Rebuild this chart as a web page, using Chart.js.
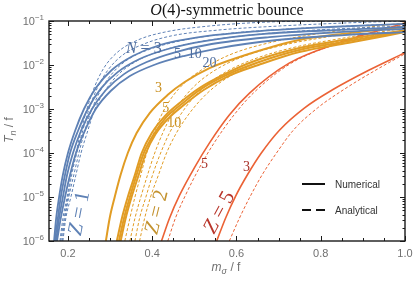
<!DOCTYPE html>
<html lang="en">
<head>
<meta charset="UTF-8" />
<title>O(4)-symmetric bounce</title>
<script src="https://cdn.jsdelivr.net/npm/chart.js"></script>
<style>
  html, body { margin:0; padding:0; background:#fff; }
</style>
</head>
<body>
<canvas id="bounceChart" width="415" height="282"></canvas>
<script>
// axis ranges and ticks
const xRange = [0.155, 1.0];
const yRange = [1e-6, 1e-1];
const xTickLabels = ['0.2', '0.4', '0.6', '0.8', '1.0'];
const yTickExps = [-6, -5, -4, -3, -2, -1];

// Z = 1, numerical (solid), N = 3, 5, 10, 20  -- [m_sigma/f, T_n/f]
const z1Num3 = [[0.167,1e-6],[0.172,3.3e-6],[0.179,1e-5],[0.188,3.2e-5],[0.200,1e-4],[0.217,3.2e-4],[0.238,1e-3],[0.266,3.0e-3],[0.304,7.7e-3],[0.354,0.016],[0.418,0.0285],[0.512,0.043],[0.654,0.059],[0.820,0.073],[1.0,0.086]];
const z1Num5 = [[0.169,1e-6],[0.176,3.3e-6],[0.183,1e-5],[0.193,3.2e-5],[0.205,1e-4],[0.224,3.2e-4],[0.247,1e-3],[0.278,2.9e-3],[0.318,6.9e-3],[0.370,0.0137],[0.437,0.0231],[0.524,0.035],[0.666,0.051],[0.832,0.062],[1.0,0.073]];
const z1Num10 = [[0.172,1e-6],[0.179,3.3e-6],[0.188,1e-5],[0.198,3.2e-5],[0.212,1e-4],[0.231,3.2e-4],[0.257,1e-3],[0.290,2.7e-3],[0.333,6.2e-3],[0.387,0.0117],[0.456,0.0197],[0.541,0.030],[0.678,0.043],[0.844,0.056],[1.0,0.066]];
const z1Num20 = [[0.174,1e-6],[0.183,3.3e-6],[0.193,1e-5],[0.205,3.2e-5],[0.219,1e-4],[0.240,3.2e-4],[0.266,1e-3],[0.302,2.6e-3],[0.347,5.6e-3],[0.404,0.0100],[0.475,0.0160],[0.560,0.0243],[0.697,0.037],[0.856,0.048],[1.0,0.056]];
// Z = 1, analytical (dashed)
const z1Ana3 = [[0.181,1e-6],[0.188,3.3e-6],[0.198,1e-5],[0.207,3.2e-5],[0.219,1e-4],[0.231,3.2e-4],[0.245,1e-3],[0.262,3.0e-3],[0.285,8.5e-3],[0.318,0.0197],[0.366,0.037],[0.430,0.056],[0.536,0.077],[0.678,0.095],[0.827,0.1],[1.0,0.111]];
const z1Ana5 = [[0.183,1e-6],[0.191,3.3e-6],[0.200,1e-5],[0.209,3.2e-5],[0.221,1e-4],[0.235,3.2e-4],[0.250,1e-3],[0.269,2.9e-3],[0.295,7.7e-3],[0.330,0.0169],[0.380,0.030],[0.446,0.046],[0.555,0.062],[0.702,0.077],[0.856,0.090],[1.0,0.1]];
const z1Ana10 = [[0.186,1e-6],[0.193,3.3e-6],[0.202,1e-5],[0.214,3.2e-5],[0.226,1e-4],[0.240,3.2e-4],[0.257,1e-3],[0.278,2.7e-3],[0.306,6.6e-3],[0.344,0.0137],[0.396,0.0231],[0.465,0.035],[0.572,0.051],[0.725,0.066],[0.867,0.077],[1.0,0.086]];
const z1Ana20 = [[0.188,1e-6],[0.195,3.3e-6],[0.207,1e-5],[0.219,3.2e-5],[0.231,1e-4],[0.247,3.2e-4],[0.264,1e-3],[0.288,2.6e-3],[0.318,5.9e-3],[0.359,0.0117],[0.413,0.0197],[0.484,0.030],[0.588,0.043],[0.749,0.059],[0.879,0.069],[1.0,0.077]];

// Z = 2
const z2Num3 = [[0.290,1e-6],[0.299,3.3e-6],[0.311,1e-5],[0.325,3.2e-5],[0.342,1e-4],[0.363,2.85e-4],[0.394,8.1e-4],[0.437,2.1e-3],[0.477,4.1e-3],[0.536,8.5e-3],[0.607,0.0152],[0.749,0.037],[0.867,0.053],[1.0,0.073]];
const z2Num5 = [[0.316,1e-6],[0.328,3.3e-6],[0.342,1e-5],[0.359,3.2e-5],[0.375,1e-4],[0.399,2.85e-4],[0.430,6.9e-4],[0.465,1.37e-3],[0.512,3.0e-3],[0.572,6.2e-3],[0.643,0.0123],[0.749,0.0243],[0.867,0.039],[1.0,0.062]];
const z2Num10 = [[0.321,1e-6],[0.333,3.3e-6],[0.347,1e-5],[0.363,3.2e-5],[0.380,1e-4],[0.404,2.7e-4],[0.434,6.6e-4],[0.470,1.3e-3],[0.517,2.9e-3],[0.576,5.9e-3],[0.647,0.0111],[0.749,0.0219],[0.867,0.035],[1.0,0.059]];
const z2Num20 = [[0.325,1e-6],[0.337,3.3e-6],[0.351,1e-5],[0.368,3.2e-5],[0.385,1e-4],[0.408,2.7e-4],[0.439,6.2e-4],[0.475,1.23e-3],[0.522,2.7e-3],[0.581,5.6e-3],[0.652,0.01],[0.749,0.0197],[0.867,0.032],[1.0,0.056]];
const z2Ana3 = [[0.335,1e-6],[0.347,3.3e-6],[0.359,1e-5],[0.373,3.2e-5],[0.387,1e-4],[0.404,2.85e-4],[0.422,7.3e-4],[0.446,1.8e-3],[0.479,4.1e-3],[0.524,8.5e-3],[0.583,0.0169],[0.678,0.032],[0.820,0.056],[1.0,0.090]];
const z2Ana5 = [[0.347,1e-6],[0.359,3.3e-6],[0.373,1e-5],[0.389,3.2e-5],[0.406,1e-4],[0.425,2.85e-4],[0.446,7.3e-4],[0.475,1.8e-3],[0.508,3.9e-3],[0.550,7.7e-3],[0.607,0.0144],[0.702,0.027],[0.844,0.048],[1.0,0.077]];
const z2Ana10 = [[0.359,1e-6],[0.370,3.3e-6],[0.385,1e-5],[0.401,3.2e-5],[0.420,1e-4],[0.441,2.85e-4],[0.465,6.9e-4],[0.493,1.6e-3],[0.529,3.5e-3],[0.574,6.9e-3],[0.636,0.013],[0.730,0.0243],[0.867,0.043],[1.0,0.069]];
const z2Ana20 = [[0.370,1e-6],[0.382,3.3e-6],[0.396,1e-5],[0.415,3.2e-5],[0.434,1e-4],[0.456,2.7e-4],[0.482,6.6e-4],[0.512,1.5e-3],[0.548,3.2e-3],[0.593,6.2e-3],[0.654,0.0117],[0.749,0.0219],[0.879,0.039],[1.0,0.062]];

// Z = 5
const z5Num3 = [[0.553,1e-6],[0.574,3.3e-6],[0.598,1.05e-5],[0.626,3.2e-5],[0.659,1e-4],[0.702,3.3e-4],[0.761,1.05e-3],[0.827,2.7e-3],[0.915,7.7e-3],[1.0,0.019]];
const z5Num5 = [[0.422,1e-6],[0.441,3.3e-6],[0.465,1.1e-5],[0.501,4.8e-5],[0.536,1.7e-4],[0.583,7.3e-4],[0.631,2.3e-3],[0.725,0.011],[0.844,0.032],[1.0,0.09]];
const z5Ana3 = [[0.583,1e-6],[0.607,3.3e-6],[0.633,1.05e-5],[0.661,3.2e-5],[0.695,1e-4],[0.735,3.3e-4],[0.792,1.05e-3],[0.853,2.7e-3],[0.931,7.7e-3],[1.0,0.018]];
const z5Ana5 = [[0.437,1e-6],[0.455,3.3e-6],[0.479,1.1e-5],[0.513,4.8e-5],[0.547,1.7e-4],[0.594,7.3e-4],[0.640,2.3e-3],[0.730,0.011],[0.846,0.032],[1.0,0.088]];

const blue = '#5e81b5', orange = '#e19c24', red = '#eb6235';

// curve annotations: [text, x, y, colour]
const nLabels = [
  ['5', 0.460, 0.0187, '#4f6e9f'], ['10', 0.501, 0.0187, '#4f6e9f'], ['20', 0.536, 0.0117, '#4f6e9f'],
  ['3', 0.415, 0.0031, '#c98f1e'], ['5', 0.432, 0.00112, '#c98f1e'], ['10', 0.452, 0.00050, '#c98f1e'],
  ['5', 0.524, 5.9e-5, '#a8322a'], ['3', 0.624, 5.1e-5, '#a8322a']
];
// Z labels: [digit, x, y, rotation deg, colour]
const zLabels = [
  ['1', 0.224, 4.3e-6, -79, '#5e81b5'],
  ['2', 0.408, 4.6e-6, -76, '#c3922e'],
  ['5', 0.557, 4.6e-6, -62, '#b8352a']
];

function series(points, color, dashed, width) {
  return {
    data: points.map(p => ({ x: p[0], y: p[1] })),
    borderColor: color,
    borderWidth: width,
    borderDash: dashed ? [3, 2] : [],
    cubicInterpolationMode: 'monotone',
    pointRadius: 0,
    fill: false
  };
}

// solids first so they are painted on top
const datasets = [
  series(z1Num3, blue, false, 1.8), series(z1Num5, blue, false, 1.8),
  series(z1Num10, blue, false, 1.8), series(z1Num20, blue, false, 1.8),
  series(z2Num3, orange, false, 2), series(z2Num5, orange, false, 2),
  series(z2Num10, orange, false, 2), series(z2Num20, orange, false, 2),
  series(z5Num3, red, false, 1.6), series(z5Num5, red, false, 1.6),
  series(z1Ana3, blue, true, 1), series(z1Ana5, blue, true, 1),
  series(z1Ana10, blue, true, 1), series(z1Ana20, blue, true, 1),
  series(z2Ana3, orange, true, 1), series(z2Ana5, orange, true, 1),
  series(z2Ana10, orange, true, 1), series(z2Ana20, orange, true, 1),
  series(z5Ana3, red, true, 1), series(z5Ana5, red, true, 1)
];

// draw a row of text pieces with different fonts / offsets
function rich(ctx, parts, x, y, align) {
  let w = 0;
  parts.forEach(p => { ctx.font = p.font; w += ctx.measureText(p.t).width; });
  let cx = align === 'center' ? x - w / 2 : align === 'right' ? x - w : x;
  ctx.textAlign = 'left';
  parts.forEach(p => {
    ctx.font = p.font;
    ctx.fillText(p.t, cx, y + (p.dy || 0));
    cx += ctx.measureText(p.t).width;
  });
}

const decorations = {
  id: 'decorations',
  afterDraw(chart) {
    const { ctx, chartArea: a, scales: { x, y } } = chart;
    ctx.save();
    ctx.strokeStyle = '#1a1a1a';
    ctx.lineWidth = 1;
    // x ticks, bottom and top
    for (let k = 4; k <= 20; k++) {
      const px = Math.round(x.getPixelForValue(k * 0.05)) + 0.5;
      const len = k % 4 === 0 ? 5 : 3;
      ctx.beginPath();
      ctx.moveTo(px, a.bottom); ctx.lineTo(px, a.bottom - len);
      ctx.moveTo(px, a.top); ctx.lineTo(px, a.top + len);
      ctx.stroke();
    }
    // y ticks, left and right
    yTickExps.forEach(e => {
      for (let m = 1; m <= 9; m++) {
        const v = m * Math.pow(10, e);
        if (v > yRange[1] * 1.0001) break;
        const py = Math.round(y.getPixelForValue(v)) + 0.5;
        const len = m === 1 ? 5 : 2.5;
        ctx.beginPath();
        ctx.moveTo(a.left, py); ctx.lineTo(a.left + len, py);
        ctx.moveTo(a.right, py); ctx.lineTo(a.right - len, py);
        ctx.stroke();
      }
    });
    // frame
    ctx.lineWidth = 1.4;
    ctx.strokeRect(a.left, a.top, a.right - a.left, a.bottom - a.top);

    // tick labels
    ctx.fillStyle = '#707070';
    ctx.textBaseline = 'alphabetic';
    xTickLabels.forEach(t => {
      ctx.font = '11px "Liberation Sans"';
      ctx.textAlign = 'center';
      ctx.fillText(t, x.getPixelForValue(parseFloat(t)), 257);
    });
    yTickExps.forEach(e => {
      const py = y.getPixelForValue(Math.pow(10, e));
      rich(ctx, [
        { t: '10', font: '11px "Liberation Sans"' },
        { t: '\u2212' + (-e), font: '8px "Liberation Sans"', dy: -5 }
      ], a.left - 5, py + 4, 'right');
    });

    // axis titles
    rich(ctx, [
      { t: 'm', font: 'italic 12px "Liberation Sans"' },
      { t: '\u03c3', font: 'italic 9px "Liberation Sans"', dy: 3 },
      { t: ' / f', font: '12px "Liberation Sans"' }
    ], 226, 271, 'center');
    ctx.save();
    ctx.translate(13, 130);
    ctx.rotate(-Math.PI / 2);
    rich(ctx, [
      { t: 'T', font: 'italic 12px "Liberation Sans"' },
      { t: 'n', font: 'italic 9px "Liberation Sans"', dy: 3 },
      { t: ' / f', font: '12px "Liberation Sans"' }
    ], 0, 0, 'center');
    ctx.restore();

    // title
    ctx.fillStyle = '#111';
    rich(ctx, [
      { t: 'O', font: 'italic 16px "Liberation Serif"' },
      { t: '(4)-symmetric bounce', font: '16px "Liberation Serif"' }
    ], 227, 15, 'center');

    // N labels
    ctx.fillStyle = '#4f6e9f';
    rich(ctx, [
      { t: 'N', font: 'italic 16px "Liberation Serif"' },
      { t: ' = 3', font: '16px "Liberation Serif"' }
    ], x.getPixelForValue(0.380), y.getPixelForValue(0.0257) + 6, 'center');
    nLabels.forEach(([t, vx, vy, c]) => {
      ctx.fillStyle = c;
      ctx.font = '14px "Liberation Serif"';
      ctx.textAlign = 'center';
      ctx.fillText(t, x.getPixelForValue(vx), y.getPixelForValue(vy) + 5);
    });
    zLabels.forEach(([d, vx, vy, rot, c]) => {
      ctx.save();
      ctx.translate(x.getPixelForValue(vx), y.getPixelForValue(vy));
      ctx.rotate(rot * Math.PI / 180);
      ctx.fillStyle = c;
      rich(ctx, [
        { t: 'Z', font: 'italic 21px "Liberation Serif"' },
        { t: ' = ' + d, font: '21px "Liberation Serif"' }
      ], 0, 7, 'center');
      ctx.restore();
    });

    // legend
    const lx = a.left + 253, ly1 = a.top + 163, ly2 = a.top + 189;
    ctx.strokeStyle = '#111';
    ctx.lineWidth = 2;
    ctx.beginPath(); ctx.moveTo(lx, ly1); ctx.lineTo(lx + 23, ly1); ctx.stroke();
    ctx.setLineDash([9, 5]);
    ctx.beginPath(); ctx.moveTo(lx, ly2); ctx.lineTo(lx + 23, ly2); ctx.stroke();
    ctx.setLineDash([]);
    ctx.fillStyle = '#333';
    ctx.font = '10px "Liberation Sans"';
    ctx.textAlign = 'left';
    ctx.textBaseline = 'middle';
    ctx.fillText('Numerical', lx + 33, ly1 + 1);
    ctx.fillText('Analytical', lx + 33, ly2 + 1);
    ctx.restore();
  }
};

new Chart(document.getElementById('bounceChart').getContext('2d'), {
  type: 'line',
  data: { datasets },
  options: {
    responsive: false,
    animation: false,
    layout: { padding: { top: 21, right: 10, left: 0, bottom: 0 } },
    plugins: { legend: { display: false }, tooltip: { enabled: false }, title: { display: false } },
    scales: {
      x: {
        type: 'linear', min: xRange[0], max: xRange[1],
        grid: { display: false }, border: { display: false }, ticks: { display: false },
        afterFit(s) { s.height = 41; }
      },
      y: {
        type: 'logarithmic', min: yRange[0], max: yRange[1],
        grid: { display: false }, border: { display: false }, ticks: { display: false },
        afterFit(s) { s.width = 49; }
      }
    }
  },
  plugins: [decorations]
});
</script>
</body>
</html>
